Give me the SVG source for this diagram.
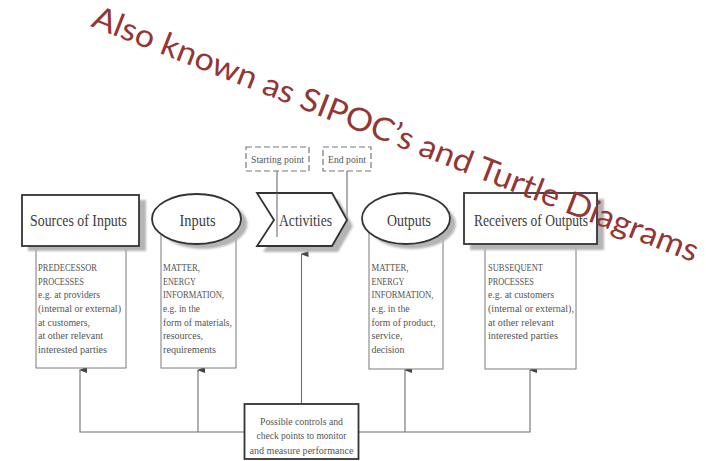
<svg xmlns="http://www.w3.org/2000/svg" width="706" height="461" viewBox="0 0 706 461">
<style>
.bg{fill:#ffffff}
.shape{fill:#ffffff;stroke:#333333;stroke-width:1.8}
.shadow{fill:#b4b4b4}
.sub{fill:#ffffff;stroke:#7a7a7a;stroke-width:1}
.dash{fill:#ffffff;stroke:#777777;stroke-width:1.2;stroke-dasharray:6 3}
.title{font-family:"Liberation Serif",serif;font-size:17px;fill:#3c3c3c;text-anchor:middle}
.body{font-family:"Liberation Serif",serif;font-size:11px;fill:#555555}
.small{font-family:"Liberation Serif",serif;font-size:10.5px;fill:#555555;text-anchor:middle}
.conn{fill:none;stroke:#6e6e6e;stroke-width:1.1}
.note{font-family:"Lato","Open Sans",sans-serif;font-size:32px;fill:#943634}
</style>
<defs>
<filter id="blur" x="-10%" y="-10%" width="120%" height="120%"><feGaussianBlur stdDeviation="1"/></filter>
<marker id="arr" markerWidth="6" markerHeight="8" refX="3" refY="1" orient="auto-start-reverse" markerUnits="userSpaceOnUse" viewBox="0 0 6 8">
<path d="M0,8 L3,0 L6,8 Z" fill="#444444"/>
</marker>
</defs>
<rect class="bg" x="0" y="0" width="706" height="461"/>

<g id="connectors">
<line class="conn" x1="277" y1="171" x2="277" y2="237"/>
<line class="conn" x1="347" y1="171" x2="347" y2="220"/>
<polyline class="conn" points="244,432 80,432 80,371"/>
<line class="conn" x1="198" y1="432" x2="198" y2="371"/>
<line class="conn" x1="80" y1="371" x2="80" y2="370" marker-end="url(#arr)"/>
<line class="conn" x1="198" y1="372" x2="198" y2="370" marker-end="url(#arr)"/>
<polyline class="conn" points="359,432 530,432 530,372"/>
<line class="conn" x1="405" y1="432" x2="405" y2="372"/>
<line class="conn" x1="405" y1="372" x2="405" y2="370" marker-end="url(#arr)"/>
<line class="conn" x1="530" y1="372" x2="530" y2="370" marker-end="url(#arr)"/>
<line class="conn" x1="301.5" y1="404" x2="301.5" y2="254" marker-end="url(#arr)"/>
</g>

<g id="sources-detail">
<rect class="sub" x="36" y="240" width="90" height="128"/>
<text class="body" x="38" y="271" textLength="59" lengthAdjust="spacingAndGlyphs">PREDECESSOR</text>
<text class="body" x="38" y="284.7" textLength="46" lengthAdjust="spacingAndGlyphs">PROCESSES</text>
<text class="body" x="38" y="298.3" textLength="62" lengthAdjust="spacingAndGlyphs">e.g. at providers</text>
<text class="body" x="38" y="312" textLength="83" lengthAdjust="spacingAndGlyphs">(internal or external)</text>
<text class="body" x="38" y="325.6" textLength="52" lengthAdjust="spacingAndGlyphs">at customers,</text>
<text class="body" x="38" y="339.3" textLength="65" lengthAdjust="spacingAndGlyphs">at other relevant</text>
<text class="body" x="38" y="352.9" textLength="69" lengthAdjust="spacingAndGlyphs">interested parties</text>
</g>
<g id="inputs-detail">
<rect class="sub" x="161" y="230" width="75" height="138"/>
<text class="body" x="163" y="271" textLength="37" lengthAdjust="spacingAndGlyphs">MATTER,</text>
<text class="body" x="163" y="284.7" textLength="33" lengthAdjust="spacingAndGlyphs">ENERGY</text>
<text class="body" x="163" y="298.3" textLength="61" lengthAdjust="spacingAndGlyphs">INFORMATION,</text>
<text class="body" x="163" y="312" textLength="37" lengthAdjust="spacingAndGlyphs">e.g. in the</text>
<text class="body" x="163" y="325.6" textLength="69" lengthAdjust="spacingAndGlyphs">form of materials,</text>
<text class="body" x="163" y="339.3" textLength="40" lengthAdjust="spacingAndGlyphs">resources,</text>
<text class="body" x="163" y="352.9" textLength="53" lengthAdjust="spacingAndGlyphs">requirements</text>
</g>
<g id="outputs-detail">
<rect class="sub" x="369" y="230" width="74" height="139"/>
<text class="body" x="371.5" y="271" textLength="37" lengthAdjust="spacingAndGlyphs">MATTER,</text>
<text class="body" x="371.5" y="284.7" textLength="33" lengthAdjust="spacingAndGlyphs">ENERGY</text>
<text class="body" x="371.5" y="298.3" textLength="62" lengthAdjust="spacingAndGlyphs">INFORMATION,</text>
<text class="body" x="371.5" y="312" textLength="38" lengthAdjust="spacingAndGlyphs">e.g. in the</text>
<text class="body" x="371.5" y="325.6" textLength="64" lengthAdjust="spacingAndGlyphs">form of product,</text>
<text class="body" x="371.5" y="339.3" textLength="31" lengthAdjust="spacingAndGlyphs">service,</text>
<text class="body" x="371.5" y="352.9" textLength="33" lengthAdjust="spacingAndGlyphs">decision</text>
</g>
<g id="receivers-detail">
<rect class="sub" x="485" y="240" width="91" height="129"/>
<text class="body" x="488" y="271" textLength="55" lengthAdjust="spacingAndGlyphs">SUBSEQUENT</text>
<text class="body" x="488" y="284.7" textLength="46" lengthAdjust="spacingAndGlyphs">PROCESSES</text>
<text class="body" x="488" y="298.3" textLength="66" lengthAdjust="spacingAndGlyphs">e.g. at customers</text>
<text class="body" x="488" y="312" textLength="86" lengthAdjust="spacingAndGlyphs">(internal or external),</text>
<text class="body" x="488" y="325.6" textLength="66" lengthAdjust="spacingAndGlyphs">at other relevant</text>
<text class="body" x="488" y="339.3" textLength="70" lengthAdjust="spacingAndGlyphs">interested parties</text>
</g>

<g id="sources">
<rect class="shadow" x="28" y="200" width="118" height="51" filter="url(#blur)"/>
<rect class="shape" x="22" y="195" width="117" height="51"/>
<text class="title" x="78.5" y="226" textLength="97" lengthAdjust="spacingAndGlyphs">Sources of Inputs</text>
</g>
<g id="inputs">
<ellipse class="shadow" cx="203" cy="224" rx="44.5" ry="25" filter="url(#blur)"/>
<ellipse class="shape" cx="196.5" cy="219" rx="44.5" ry="25"/>
<text class="title" x="197.5" y="226" textLength="36" lengthAdjust="spacingAndGlyphs">Inputs</text>
</g>
<g id="activities">
<polygon class="shadow" points="263,199 338,199 353,226 338,252 263,252 280,226" filter="url(#blur)"/>
<polygon class="shape" points="257,193 332,193 347,220 332,246 257,246 274,220"/>
<line class="conn" x1="277" y1="193" x2="277" y2="237"/>
<text class="title" x="305.5" y="226" textLength="53" lengthAdjust="spacingAndGlyphs">Activities</text>
</g>
<g id="starting-point">
<rect class="dash" x="246" y="147" width="63" height="24"/>
<text class="small" x="277.5" y="163" textLength="53" lengthAdjust="spacingAndGlyphs">Starting point</text>
</g>
<g id="end-point">
<rect class="dash" x="323" y="147" width="48" height="24"/>
<text class="small" x="347" y="163" textLength="38" lengthAdjust="spacingAndGlyphs">End point</text>
</g>
<g id="outputs">
<ellipse class="shadow" cx="412" cy="224" rx="44" ry="25" filter="url(#blur)"/>
<ellipse class="shape" cx="406" cy="218.5" rx="44" ry="25.5"/>
<text class="title" x="409" y="226" textLength="44" lengthAdjust="spacingAndGlyphs">Outputs</text>
</g>
<g id="receivers">
<rect class="shadow" x="470" y="199" width="134" height="51" filter="url(#blur)"/>
<rect class="shape" x="464" y="193" width="133" height="51"/>
<text class="title" x="531" y="226" textLength="114" lengthAdjust="spacingAndGlyphs">Receivers of Outputs</text>
</g>
<g id="controls">
<rect class="shape" x="244.5" y="404" width="114" height="55"/>
<text class="small" x="301.5" y="424.5" textLength="83" lengthAdjust="spacingAndGlyphs">Possible controls and</text>
<text class="small" x="301.5" y="439" textLength="90" lengthAdjust="spacingAndGlyphs">check points to monitor</text>
<text class="small" x="301.5" y="453.5" textLength="104" lengthAdjust="spacingAndGlyphs">and measure performance</text>
</g>

<g id="annotation">
<text class="note" x="90" y="26" transform="rotate(21.4 90 26)" textLength="648" lengthAdjust="spacingAndGlyphs">Also known as SIPOC’s and Turtle Diagrams</text>
</g>
</svg>
